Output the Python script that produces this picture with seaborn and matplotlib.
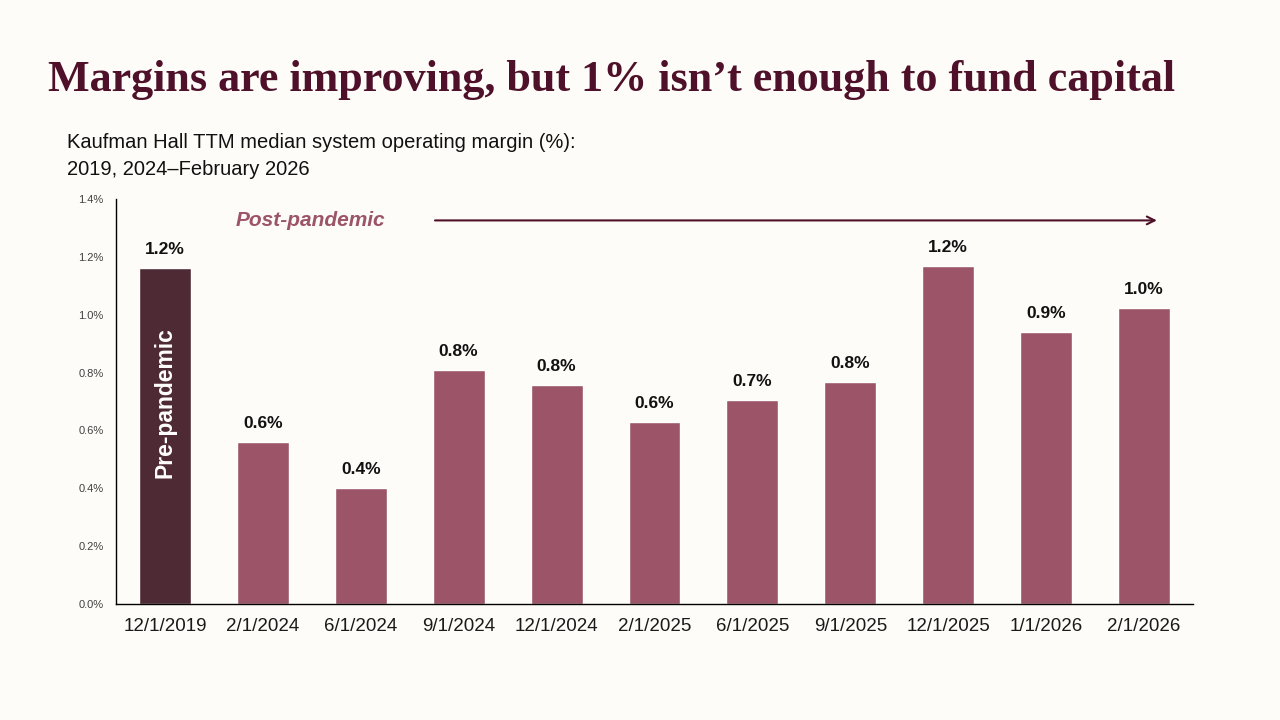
import seaborn as sns
import pandas as pd
import matplotlib.pyplot as plt
from matplotlib.ticker import FuncFormatter

dates = ['12/1/2019', '2/1/2024', '6/1/2024', '9/1/2024', '12/1/2024', '2/1/2025',
         '6/1/2025', '9/1/2025', '12/1/2025', '1/1/2026', '2/1/2026']
margins = [1.16, 0.56, 0.40, 0.81, 0.757, 0.63, 0.705, 0.767, 1.168, 0.94, 1.023]
labels = ['1.2%', '0.6%', '0.4%', '0.8%', '0.8%', '0.6%', '0.7%', '0.8%', '1.2%', '0.9%', '1.0%']

bg = '#FDFCF8'
dark = '#4E2A35'
rose = '#9B5468'
title_col = '#4F1129'

sns.set_theme(style='white')
plt.rcParams['font.family'] = ['Liberation Sans', 'DejaVu Sans']

df = pd.DataFrame({'date': dates, 'margin': margins})
colors = [dark] + [rose] * (len(dates) - 1)

fig = plt.figure(figsize=(12.8, 7.2), dpi=100, facecolor=bg)
ax = fig.add_axes([0.0906, 0.1611, 0.8414, 0.5625])
ax.set_facecolor(bg)

sns.barplot(data=df, x='date', y='margin', hue='date', palette=colors,
            legend=False, width=0.53, saturation=1, ax=ax)

ax.set_ylim(0, 1.4)
ax.set_xlim(-0.5, len(dates) - 0.5)
ax.set_yticks([0, 0.2, 0.4, 0.6, 0.8, 1.0, 1.2, 1.4])
ax.yaxis.set_major_formatter(FuncFormatter(lambda v, p: f'{v:.1f}%'))
ax.tick_params(axis='y', labelsize=8, labelcolor='#404040', length=0, pad=9)
ax.tick_params(axis='x', labelsize=13.5, labelcolor='#1a1a1a', length=0, pad=10)
ax.set_xlabel('')
ax.set_ylabel('')
for s in ['top', 'right']:
    ax.spines[s].set_visible(False)
for s in ['left', 'bottom']:
    ax.spines[s].set_color('#000000')
    ax.spines[s].set_linewidth(1)

# value labels
for i, (v, lab) in enumerate(zip(margins, labels)):
    ax.annotate(lab, (i, v), xytext=(0, 8), textcoords='offset points',
                ha='center', va='bottom', fontsize=12.5, fontweight='bold', color='#111111')

# pre-pandemic label inside first bar
ax.text(0, 0.695, 'Pre-pandemic', rotation=90, ha='center', va='center',
        color='white', fontsize=16.5, fontweight='bold')

# post-pandemic arrow
ax.text(1.49, 1.326, 'Post-pandemic', ha='center', va='center', color=rose,
        fontsize=15, fontweight='bold', fontstyle='italic')
ax.annotate('', xy=(10.16, 1.326), xytext=(2.73, 1.326),
            arrowprops=dict(arrowstyle='->', color=title_col, lw=1.5, mutation_scale=14))

fig.text(0.0375, 0.889, 'Margins are improving, but 1% isn\u2019t enough to fund capital',
         fontsize=31.8, fontweight='bold', color=title_col, family='Liberation Serif', va='center')
fig.text(0.052, 0.802, 'Kaufman Hall TTM median system operating margin (%):',
         fontsize=14.5, color='#111111', va='center')
fig.text(0.052, 0.765, '2019, 2024\u2013February 2026',
         fontsize=14.5, color='#111111', va='center')

fig.savefig('out.png', dpi=100, facecolor=bg)
